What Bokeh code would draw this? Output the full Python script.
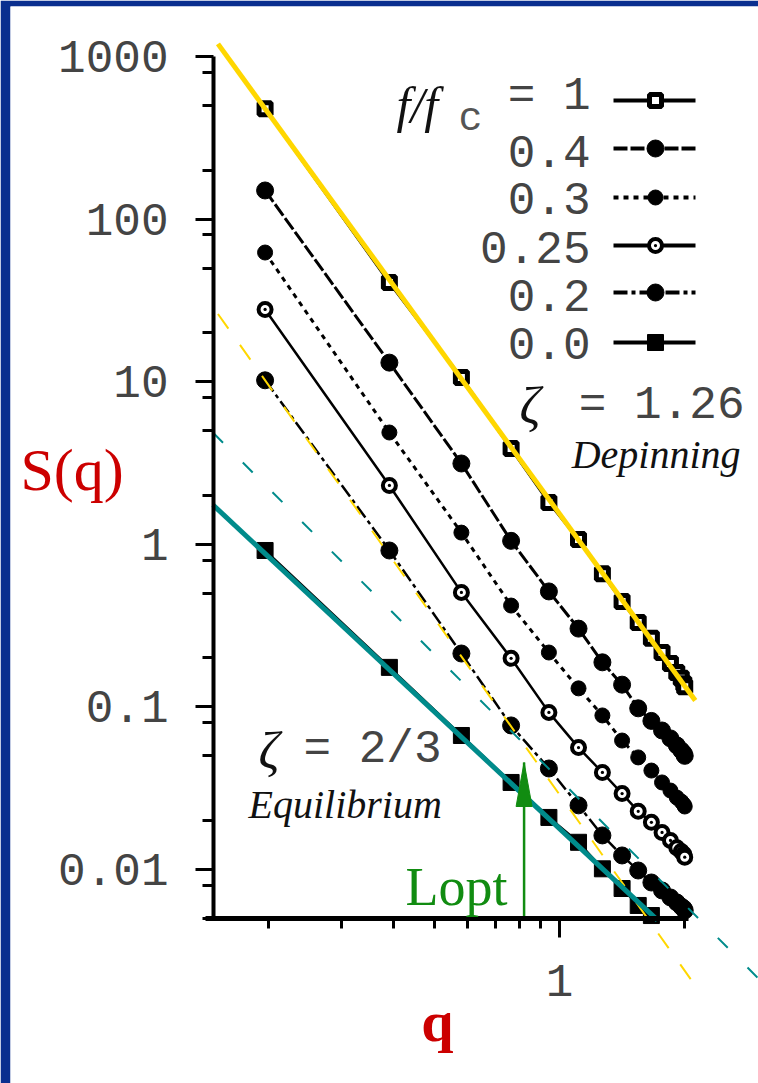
import math
from bokeh.plotting import figure
from bokeh.models import FixedTicker, CustomJSTickFormatter, Label
from bokeh.embed import file_html
from bokeh.resources import INLINE

# ---------------- data ----------------
q = [0.196, 0.390, 0.581, 0.765, 0.943, 1.111, 1.268, 1.414, 1.546,
     1.663, 1.764, 1.848, 1.914, 1.962, 1.990, 2.000]

S_100 = [478, 40.7, 10.6, 3.88, 1.81, 1.07, 0.66, 0.445, 0.330,
         0.264, 0.216, 0.185, 0.163, 0.150, 0.139, 0.133]
S_040 = [150, 13.1, 3.14, 1.05, 0.513, 0.303, 0.188, 0.137, 0.098,
         0.082, 0.0716, 0.064, 0.058, 0.054, 0.0517, 0.050]
S_030 = [62.3, 4.87, 1.18, 0.420, 0.216, 0.130, 0.0886, 0.0621, 0.0489,
         0.0406, 0.0343, 0.0306, 0.0277, 0.0262, 0.0251, 0.0244]
S_025 = [27.8, 2.30, 0.506, 0.199, 0.0925, 0.0562, 0.0395, 0.0293, 0.0228,
         0.0195, 0.0169, 0.0151, 0.0136, 0.0129, 0.0124, 0.0119]
S_020 = [10.2, 0.916, 0.213, 0.0769, 0.0418, 0.0248, 0.0162, 0.0122, 0.00986,
         0.00832, 0.00743, 0.00673, 0.00627, 0.00592, 0.00575, 0.00560]
S_000 = [0.916, 0.175, 0.0667, 0.0343, 0.0209, 0.0147, 0.0101, 0.00764,
         0.00601, 0.00521]

legend_labels = ["0.4", "0.3", "0.25", "0.2", "0.0"]

# power-law guide lines  S = A * q^(-exponent)
fit_names = ["depinning", "depinning_dashed", "equilibrium", "equilibrium_dashed"]
fit_A = [1.54, 0.0289, 0.01784, 0.0358]
fit_exp = [3.52, 3.60, 2.39, 2.56]
fit_q0 = [0.151, 0.151, 0.147, 0.147]
fit_q1 = [2.12, 2.07, 1.72, 3.0]

y_major = [0.01, 0.1, 1, 10, 100, 1000]
y_minor = [0.005, 0.008, 0.02, 0.05, 0.08, 0.2, 0.5, 0.8, 2, 5, 8,
           20, 50, 80, 200, 500, 800]
x_major = [1]
x_minor = [0.2, 0.3, 0.4, 0.5, 0.6, 0.7, 0.8, 0.9, 2]

Lopt_q = 0.822
Lopt_tip = 0.0455

# ---------------- scale calibration (pixel -> data) ----------------
def qx(X):
    return 10 ** ((X - 559) / 416.0)

def sy(Y):
    return 10 ** (3 - (Y - 56) / 162.6)

YELLOW = "#FFD700"
TEAL = "#008B8B"
RED = "#CC0000"
GREEN = "#118C11"
BLUE = "#0a2f8f"
MONO = "Liberation Mono"
SERIF = "Liberation Serif"
TICKC = "#444444"

W, H = 758, 1083
BL, BT = 10, 6   # blue frame border (left, top)

p = figure(width=W, height=H, x_axis_type="log", y_axis_type="log",
           x_range=(qx(BL), qx(W)), y_range=(sy(H), sy(BT)),
           output_backend="svg", toolbar_location=None,
           min_border_left=BL, min_border_top=BT, min_border_right=0,
           min_border_bottom=0,
           background_fill_color="white", border_fill_color=BLUE)
p.outline_line_color = None
p.grid.visible = False

fmt = CustomJSTickFormatter(code="return tick.toString();")

ya = p.yaxis[0]
ya.fixed_location = qx(213)
ya.bounds = (sy(918), 1000)
ya.ticker = FixedTicker(ticks=y_major, minor_ticks=y_minor)
ya.formatter = fmt
ya.axis_line_width = 4
ya.major_tick_line_width = 3
ya.minor_tick_line_width = 3
ya.major_tick_out = 18
ya.major_tick_in = 0
ya.minor_tick_out = 11
ya.minor_tick_in = 0
ya.major_label_text_font = MONO
ya.major_label_text_font_size = "46px"
ya.major_label_text_color = TICKC
ya.major_label_standoff = 27

xa = p.xaxis[0]
xa.fixed_location = sy(918)
xa.bounds = (qx(205), qx(688))
xa.ticker = FixedTicker(ticks=x_major, minor_ticks=x_minor)
xa.formatter = fmt
xa.axis_line_width = 5
xa.major_tick_line_width = 3
xa.minor_tick_line_width = 3
xa.major_tick_out = 19
xa.major_tick_in = 0
xa.minor_tick_out = 10
xa.minor_tick_in = 0
xa.major_label_text_font = MONO
xa.major_label_text_font_size = "46px"
xa.major_label_text_color = TICKC
xa.major_label_standoff = 27

# ---------------- data series ----------------
series = [
    dict(S=S_100, dash="solid", lw=3, marker="square", size=12, fill="white", mlw=5),
    dict(S=S_040, dash="14 3", lw=3, marker="circle", size=17, fill="black", mlw=1),
    dict(S=S_030, dash="5 5", lw=3, marker="circle", size=15, fill="black", mlw=1),
    dict(S=S_025, dash="solid", lw=2.5, marker="circle_dot", size=13, fill="white", mlw=4),
    dict(S=S_020, dash="14 4 4 4", lw=2.5, marker="circle", size=17, fill="black", mlw=1),
    dict(S=S_000, dash="solid", lw=2.5, marker="square", size=16, fill="black", mlw=1),
]

for s in series:
    qq = q[:len(s["S"])]
    p.line(qq, s["S"], line_color="black", line_width=s["lw"], line_dash=s["dash"])
for s in series:
    qq = q[:len(s["S"])]
    p.scatter(qq, s["S"], marker=s["marker"], size=s["size"], fill_color=s["fill"],
              line_color="black", line_width=s["mlw"])

# ---------------- guide lines ----------------
fit_style = [
    dict(color=YELLOW, width=5, dash="solid"),
    dict(color=YELLOW, width=2, dash="18 20"),
    dict(color=TEAL, width=5, dash="solid"),
    dict(color=TEAL, width=2, dash="14 28"),
]
for A, e, q0, q1, st in zip(fit_A, fit_exp, fit_q0, fit_q1, fit_style):
    p.line([q0, q1], [A * q0 ** (-e), A * q1 ** (-e)], line_color=st["color"],
           line_width=st["width"], line_dash=st["dash"])

# ---------------- Lopt arrow ----------------
p.line([Lopt_q, Lopt_q], [sy(918), Lopt_tip], line_color=GREEN, line_width=2.5)
tipY = 56 + 162.6 * (3 - math.log10(Lopt_tip))
tipX = 559 + 416 * math.log10(Lopt_q)
p.patch([qx(tipX), qx(tipX - 8), qx(tipX + 8)], [sy(tipY), sy(tipY + 44), sy(tipY + 44)],
        fill_color=GREEN, line_color=GREEN, line_width=1)

# ---------------- legend (drawn by hand: label left of sample) ----------------
row_line_y = [100, 148, 197, 245, 292, 342]
row_text_y = [151, 198, 247, 295, 343]
for i, s in enumerate(series):
    yy = sy(row_line_y[i])
    p.line([qx(613), qx(695)], [yy, yy], line_color="black", line_width=4,
           line_dash=s["dash"])
    p.scatter([qx(655)], [yy], marker=s["marker"], size=s["size"], fill_color=s["fill"],
              line_color="black", line_width=s["mlw"])

def add_label(X, Y, text, font, size, align="left", baseline="middle",
              style="normal", color=TICKC):
    p.add_layout(Label(x=qx(X), y=sy(Y), text=text, text_font=font,
                       text_font_size=size, text_align=align,
                       text_baseline=baseline, text_font_style=style,
                       text_color=color))

add_label(396, 104, "f/f", SERIF, "50px", baseline="alphabetic", style="italic",
          color="#111111")
add_label(458, 119, "c", MONO, "40px", baseline="alphabetic", color="#555555")
add_label(590, 96, "= 1", MONO, "46px", align="right")
for t, yy in zip(legend_labels, row_text_y):
    add_label(590, yy, t, MONO, "46px", align="right")

add_label(519, 405, "\u03b6", SERIF, "52px", baseline="alphabetic", style="italic",
          color="#111111")
add_label(744, 405, "= 1.26", MONO, "46px", align="right")
add_label(740, 454, "Depinning", SERIF, "40px", align="right", baseline="alphabetic",
          style="italic", color="#111111")

add_label(258, 750, "\u03b6", SERIF, "52px", baseline="alphabetic", style="italic",
          color="#111111")
add_label(441, 749, "= 2/3", MONO, "46px", align="right")
add_label(248, 804, "Equilibrium", SERIF, "40px", baseline="alphabetic",
          style="italic", color="#111111")

add_label(405, 886, "Lopt", SERIF, "54px", baseline="alphabetic", color=GREEN)

add_label(20, 469, "S(q)", SERIF, "60px", baseline="alphabetic", color=RED)
add_label(437, 1021, "q", SERIF, "58px", align="center", baseline="alphabetic",
          style="bold", color=RED)

open("out.html", "w").write(file_html(p, INLINE))
